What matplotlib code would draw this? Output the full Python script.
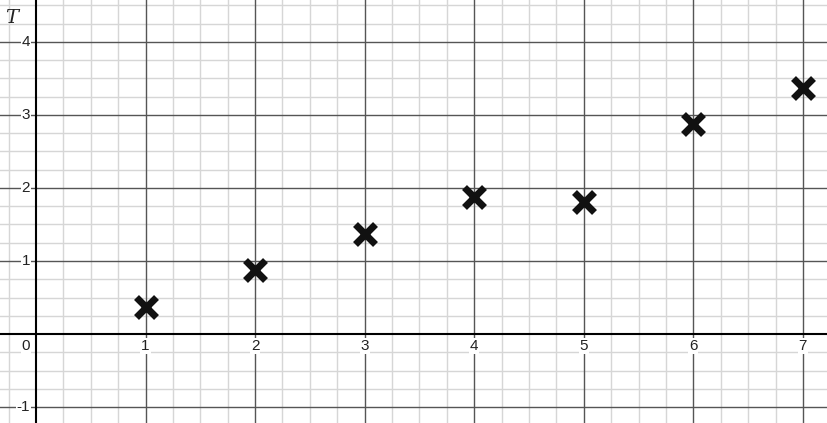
import matplotlib.pyplot as plt
import numpy as np

# mérési pontok
xs = [1, 2, 3, 4, 5, 6, 7]
ts = [0.37, 0.88, 1.37, 1.88, 1.81, 2.88, 3.37]
x_ticks = [1, 2, 3, 4, 5, 6, 7]
y_ticks = [-1, 1, 2, 3, 4]

x_min, x_max = -0.328, 7.22
y_min, y_max = -1.219, 4.575

fig = plt.figure(figsize=(8.27, 4.23), dpi=100)
ax = fig.add_axes([0, 0, 1, 1])
ax.set_xlim(x_min, x_max)
ax.set_ylim(y_min, y_max)
ax.axis('off')

# rács
for v in np.arange(-0.25, 7.5, 0.25):
    if abs(v - round(v)) > 1e-6:
        ax.axvline(v, color='#d6d6d6', lw=1, zorder=0)
for v in np.arange(-1.25, 4.75, 0.25):
    if abs(v - round(v)) > 1e-6:
        ax.axhline(v, color='#d6d6d6', lw=1, zorder=0)
for v in range(1, 8):
    ax.axvline(v, color='#555555', lw=1, zorder=1)
for v in range(-1, 5):
    if v != 0:
        ax.axhline(v, color='#555555', lw=1, zorder=1)

# tengelyek
ax.axhline(0, color='black', lw=1.5, zorder=2)
ax.axvline(0, color='black', lw=1.5, zorder=2)

lbl = dict(fontsize=11, family='Liberation Sans', color='#222222', zorder=3,
           bbox=dict(facecolor='white', edgecolor='none', pad=0.5))
for v in x_ticks:
    ax.text(v, -0.07, str(v), ha='center', va='top', **lbl)
for v in y_ticks:
    ax.text(-0.055, v, str(v), ha='right', va='center', **lbl)
ax.text(-0.055, -0.07, '0', ha='right', va='top', **lbl)

ax.text(-0.22, 4.33, 'T', fontsize=14, family='DejaVu Serif', style='italic',
        ha='center', va='center', color='#222222')

ax.plot(xs, ts, linestyle='none', marker='x', markersize=14, mew=5,
        color='#111111', zorder=4)

fig.savefig('out.png', dpi=100)
